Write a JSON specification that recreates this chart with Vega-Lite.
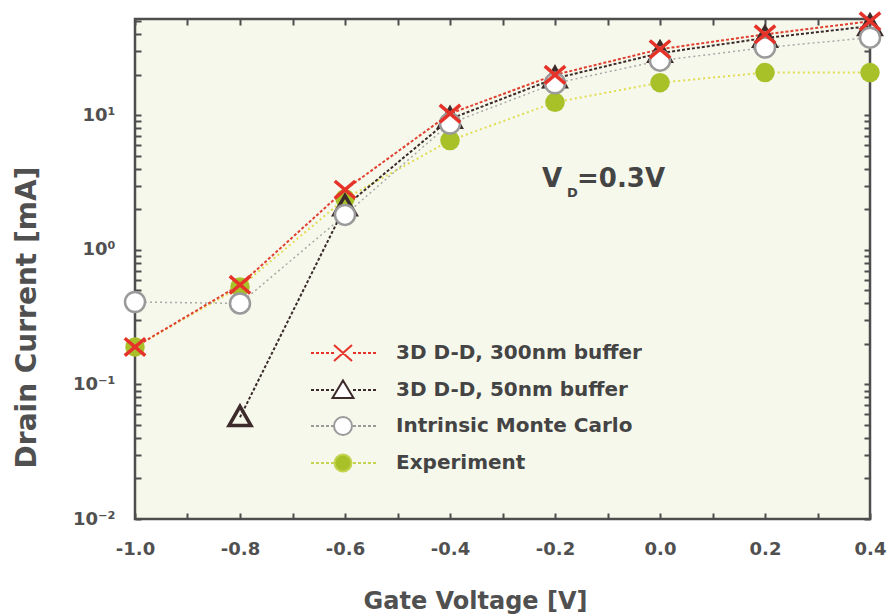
{
  "$schema": "https://vega.github.io/schema/vega-lite/v6.json",
  "width": 735,
  "height": 500,
  "autosize": "none",
  "padding": {"left": 135, "top": 19, "right": 18, "bottom": 95},
  "background": "white",
  "config": {
    "view": {"fill": "#f7f8ec", "stroke": "#4d4d4d", "strokeWidth": 2.5},
    "font": "DejaVu Sans",
    "axis": {"grid": false, "domain": false, "tickColor": "#4d4d4d", "tickWidth": 2}
  },
  "data": {"values": [
    {"series": "3D D-D, 300nm buffer", "v": -1.0, "i": 0.19},
    {"series": "3D D-D, 300nm buffer", "v": -0.8, "i": 0.55},
    {"series": "3D D-D, 300nm buffer", "v": -0.6, "i": 2.8},
    {"series": "3D D-D, 300nm buffer", "v": -0.4, "i": 10.3},
    {"series": "3D D-D, 300nm buffer", "v": -0.2, "i": 20},
    {"series": "3D D-D, 300nm buffer", "v": 0.0, "i": 31},
    {"series": "3D D-D, 300nm buffer", "v": 0.2, "i": 40},
    {"series": "3D D-D, 300nm buffer", "v": 0.4, "i": 50},
    {"series": "3D D-D, 50nm buffer", "v": -0.8, "i": 0.057},
    {"series": "3D D-D, 50nm buffer", "v": -0.6, "i": 2.1},
    {"series": "3D D-D, 50nm buffer", "v": -0.4, "i": 9.4},
    {"series": "3D D-D, 50nm buffer", "v": -0.2, "i": 18.8},
    {"series": "3D D-D, 50nm buffer", "v": 0.0, "i": 29},
    {"series": "3D D-D, 50nm buffer", "v": 0.2, "i": 37.5},
    {"series": "3D D-D, 50nm buffer", "v": 0.4, "i": 46},
    {"series": "Intrinsic Monte Carlo", "v": -1.0, "i": 0.41},
    {"series": "Intrinsic Monte Carlo", "v": -0.8, "i": 0.40},
    {"series": "Intrinsic Monte Carlo", "v": -0.6, "i": 1.82},
    {"series": "Intrinsic Monte Carlo", "v": -0.4, "i": 8.7},
    {"series": "Intrinsic Monte Carlo", "v": -0.2, "i": 17.3},
    {"series": "Intrinsic Monte Carlo", "v": 0.0, "i": 25.5},
    {"series": "Intrinsic Monte Carlo", "v": 0.2, "i": 31.9},
    {"series": "Intrinsic Monte Carlo", "v": 0.4, "i": 37.8},
    {"series": "Experiment", "v": -1.0, "i": 0.19},
    {"series": "Experiment", "v": -0.8, "i": 0.53},
    {"series": "Experiment", "v": -0.6, "i": 2.4},
    {"series": "Experiment", "v": -0.4, "i": 6.5},
    {"series": "Experiment", "v": -0.2, "i": 12.5},
    {"series": "Experiment", "v": 0.0, "i": 17.5},
    {"series": "Experiment", "v": 0.2, "i": 20.8},
    {"series": "Experiment", "v": 0.4, "i": 20.8}
  ]},
  "resolve": {"axis": {"x": "independent", "y": "independent"}},
  "layer": [
    {
      "transform": [{"filter": "datum.series == 'Experiment'"}],
      "mark": {"type": "line", "stroke": "#e0dc50", "strokeDash": [2, 3], "strokeWidth": 2},
      "encoding": {
        "x": {"field": "v", "type": "quantitative",
          "scale": {"domain": [-1.0, 0.4], "nice": false, "zero": false},
          "axis": {
            "orient": "bottom",
            "values": [-1, -0.9, -0.8, -0.7, -0.6, -0.5, -0.4, -0.3, -0.2, -0.1, 0, 0.1, 0.2, 0.3, 0.4],
            "tickSize": -6,
            "labelExpr": "indexof([-1,-0.8,-0.6,-0.4,-0.2,0,0.2,0.4], datum.value) >= 0 ? replace(format(datum.value, '.1f'), '\u2212', '-') : ''",
            "labelFont": "DejaVu Sans", "labelFontWeight": "bold", "labelFontSize": 18, "labelColor": "#505050",
            "labelPadding": 27, "labelFlush": false, "labelOverlap": false,
            "title": "Gate Voltage [V]", "titleFont": "DejaVu Sans", "titleFontWeight": "bold", "titleFontSize": 24,
            "titleColor": "#505050", "titleX": 340, "titleY": 89, "titleBaseline": "alphabetic", "titleAlign": "center"
          }
        },
        "y": {"field": "i", "type": "quantitative",
          "scale": {"type": "log", "domain": [0.01, 52], "nice": false},
          "axis": {
            "orient": "left",
            "values": [0.01, 0.02, 0.03, 0.04, 0.05, 0.06, 0.07, 0.08, 0.09, 0.1, 0.2, 0.3, 0.4, 0.5, 0.6, 0.7, 0.8, 0.9, 1, 2, 3, 4, 5, 6, 7, 8, 9, 10, 20, 30, 40, 50],
            "tickSize": -6,
            "labelExpr": "datum.value == 10 ? '10\u00b9' : datum.value == 1 ? '10\u2070' : datum.value == 0.1 ? '10\u207b\u00b9' : datum.value == 0.01 ? '10\u207b\u00b2' : ''",
            "labelFont": "DejaVu Sans", "labelFontWeight": "bold", "labelFontSize": 18, "labelColor": "#505050",
            "labelPadding": 26, "labelOverlap": false, "labelFlush": false,
            "title": "Drain Current [mA]", "titleFont": "DejaVu Sans", "titleFontWeight": "bold", "titleFontSize": 28,
            "titleColor": "#505050", "titleX": -108, "titleY": 298, "titleBaseline": "middle", "titleAlign": "center", "titleAngle": -90
          }
        }
      }
    },
    {
      "transform": [{"filter": "datum.series == 'Intrinsic Monte Carlo'"}],
      "mark": {"type": "line", "stroke": "#a8a8a8", "strokeDash": [2, 3], "strokeWidth": 1.5},
      "encoding": {
        "x": {"field": "v", "type": "quantitative",
          "axis": {"orient": "top", "labels": false, "title": null,
            "values": [-1, -0.9, -0.8, -0.7, -0.6, -0.5, -0.4, -0.3, -0.2, -0.1, 0, 0.1, 0.2, 0.3, 0.4], "tickSize": -6}},
        "y": {"field": "i", "type": "quantitative",
          "axis": {"orient": "right", "labels": false, "title": null,
            "values": [0.01, 0.02, 0.03, 0.04, 0.05, 0.06, 0.07, 0.08, 0.09, 0.1, 0.2, 0.3, 0.4, 0.5, 0.6, 0.7, 0.8, 0.9, 1, 2, 3, 4, 5, 6, 7, 8, 9, 10, 20, 30, 40, 50], "tickSize": -6}}
      }
    },
    {
      "transform": [{"filter": "datum.series == '3D D-D, 50nm buffer'"}],
      "mark": {"type": "line", "stroke": "#3a2a2a", "strokeDash": [3, 2], "strokeWidth": 2},
      "encoding": {
        "x": {"field": "v", "type": "quantitative", "axis": null},
        "y": {"field": "i", "type": "quantitative", "axis": null}
      }
    },
    {
      "transform": [{"filter": "datum.series == '3D D-D, 300nm buffer'"}],
      "mark": {"type": "line", "stroke": "#e04030", "strokeDash": [3, 2], "strokeWidth": 2},
      "encoding": {
        "x": {"field": "v", "type": "quantitative", "axis": null},
        "y": {"field": "i", "type": "quantitative", "axis": null}
      }
    },
    {
      "transform": [{"filter": "datum.series == 'Experiment'"}],
      "mark": {"type": "point", "shape": "circle", "size": 380, "filled": true, "fill": "#a8c128", "opacity": 1, "strokeWidth": 0},
      "encoding": {
        "x": {"field": "v", "type": "quantitative", "axis": null},
        "y": {"field": "i", "type": "quantitative", "axis": null}
      }
    },
    {
      "transform": [{"filter": "datum.series == '3D D-D, 50nm buffer'"}],
      "mark": {"type": "point", "shape": "M0,-1L1,0.75L-1,0.75Z", "size": 480, "filled": false, "stroke": "#3d2b2b", "strokeWidth": 3.5, "opacity": 1},
      "encoding": {
        "x": {"field": "v", "type": "quantitative", "axis": null},
        "y": {"field": "i", "type": "quantitative", "axis": null}
      }
    },
    {
      "transform": [{"filter": "datum.series == 'Intrinsic Monte Carlo'"}],
      "mark": {"type": "point", "shape": "circle", "size": 400, "filled": false, "fill": "#ffffff", "stroke": "#9a9a9a", "strokeWidth": 2.5, "opacity": 1},
      "encoding": {
        "x": {"field": "v", "type": "quantitative", "axis": null},
        "y": {"field": "i", "type": "quantitative", "axis": null}
      }
    },
    {
      "transform": [{"filter": "datum.series == '3D D-D, 300nm buffer'"}],
      "mark": {"type": "point", "shape": "M-1,-0.85L1,0.85M-1,0.85L1,-0.85", "size": 420, "filled": false, "stroke": "#e5332a", "strokeWidth": 3.5, "opacity": 1},
      "encoding": {
        "x": {"field": "v", "type": "quantitative", "axis": null},
        "y": {"field": "i", "type": "quantitative", "axis": null}
      }
    },
    {
      "mark": {"type": "point", "opacity": 0, "strokeWidth": 2},
      "encoding": {
        "x": {"field": "v", "type": "quantitative", "axis": null},
        "y": {"field": "i", "type": "quantitative", "axis": null},
        "shape": {"field": "series", "type": "nominal",
          "scale": {"domain": ["3D D-D, 300nm buffer", "3D D-D, 50nm buffer", "Intrinsic Monte Carlo", "Experiment"],
                    "range": [
                      "M-3.2,0H-2.9M-2.7,0H-2.4M-2.2,0H-1.9M-1.7,0H-1.4M-1.2,0H-0.9M1.0,0H1.3M1.5,0H1.8M2.0,0H2.3M2.5,0H2.8M3.0,0H3.3M-0.9,-0.8L0.9,0.8M-0.9,0.8L0.9,-0.8",
                      "M-3.2,0H-2.9M-2.7,0H-2.4M-2.2,0H-1.9M-1.7,0H-1.4M-1.2,0H-0.9M1.0,0H1.3M1.5,0H1.8M2.0,0H2.3M2.5,0H2.8M3.0,0H3.3M0,-0.95L1.05,0.8L-1.05,0.8Z",
                      "M-3.2,0H-2.9M-2.7,0H-2.4M-2.2,0H-1.9M-1.7,0H-1.4M-1.2,0H-0.9M1.0,0H1.3M1.5,0H1.8M2.0,0H2.3M2.5,0H2.8M3.0,0H3.3M0.9,0A0.9,0.9 0 1,1 -0.9,0A0.9,0.9 0 1,1 0.9,0Z",
                      "M-3.2,0H-2.9M-2.7,0H-2.4M-2.2,0H-1.9M-1.7,0H-1.4M-1.2,0H-0.9M1.0,0H1.3M1.5,0H1.8M2.0,0H2.3M2.5,0H2.8M3.0,0H3.3M0.85,0A0.85,0.85 0 1,1 -0.85,0A0.85,0.85 0 1,1 0.85,0Z"
                    ]},
          "legend": {"title": null, "orient": "none", "legendX": 197, "legendY": 323, "padding": 0,
            "symbolSize": 400, "symbolOpacity": 1, "symbolStrokeWidth": 2, "labelOffset": 42, "rowPadding": 11,
            "labelFont": "DejaVu Sans", "labelFontWeight": "bold", "labelFontSize": 20, "labelColor": "#444444", "labelLimit": 400}},
        "stroke": {"field": "series", "type": "nominal",
          "scale": {"domain": ["3D D-D, 300nm buffer", "3D D-D, 50nm buffer", "Intrinsic Monte Carlo", "Experiment"],
                    "range": ["#e5332a", "#3d2b2b", "#9a9a9a", "#c4d450"]},
          "legend": {"title": null, "orient": "none", "legendX": 197, "legendY": 323, "padding": 0,
            "symbolSize": 400, "symbolOpacity": 1, "symbolStrokeWidth": 2, "labelOffset": 42, "rowPadding": 11,
            "labelFont": "DejaVu Sans", "labelFontWeight": "bold", "labelFontSize": 20, "labelColor": "#444444", "labelLimit": 400}},
        "fill": {"field": "series", "type": "nominal",
          "scale": {"domain": ["3D D-D, 300nm buffer", "3D D-D, 50nm buffer", "Intrinsic Monte Carlo", "Experiment"],
                    "range": ["transparent", "#ffffff", "#ffffff", "#a8c128"]},
          "legend": {"title": null, "orient": "none", "legendX": 197, "legendY": 323, "padding": 0,
            "symbolSize": 400, "symbolOpacity": 1, "symbolStrokeWidth": 2, "labelOffset": 42, "rowPadding": 11,
            "labelFont": "DejaVu Sans", "labelFontWeight": "bold", "labelFontSize": 20, "labelColor": "#444444", "labelLimit": 400}}
      }
    },
    {
      "data": {"values": [
        {"t": "V", "v": -0.2248, "i": 2.915},
        {"t": "=0.3V", "v": -0.158, "i": 2.915}
      ]},
      "mark": {"type": "text", "font": "DejaVu Sans", "fontWeight": "bold", "fontSize": 26, "color": "#444444", "align": "left", "baseline": "alphabetic"},
      "encoding": {
        "x": {"field": "v", "type": "quantitative", "axis": null},
        "y": {"field": "i", "type": "quantitative", "axis": null},
        "text": {"field": "t"}
      }
    },
    {
      "data": {"values": [
        {"t": "D", "v": -0.177, "i": 2.457}
      ]},
      "mark": {"type": "text", "font": "DejaVu Sans", "fontWeight": "bold", "fontSize": 13, "color": "#444444", "align": "left", "baseline": "alphabetic"},
      "encoding": {
        "x": {"field": "v", "type": "quantitative", "axis": null},
        "y": {"field": "i", "type": "quantitative", "axis": null},
        "text": {"field": "t"}
      }
    }
  ]
}
